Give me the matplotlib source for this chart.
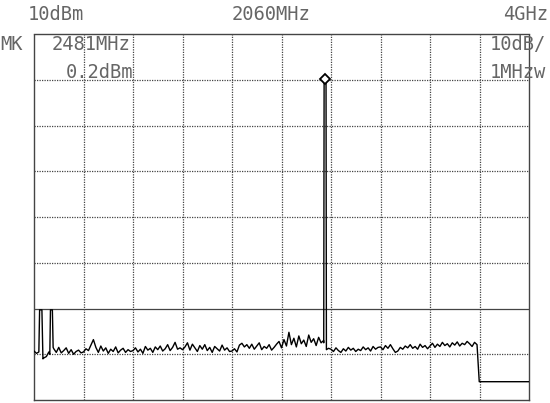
import numpy as np
import matplotlib
matplotlib.use("Agg")
import matplotlib.pyplot as plt

# ------------------------------------------------------------
# Spectrum analyser screen: 120 MHz .. 4 GHz, ref 10 dBm, 10 dB/div
# ------------------------------------------------------------
F_START, F_STOP = 120.0, 4000.0
REF_LEVEL, DB_DIV, N_YDIV, N_XDIV = 10.0, 10.0, 8, 10

# noise floor, 20 readings per horizontal division (divisions 0..8)
noise_div = [
    [-59.3, -59.8, -59.0, -60.2, -60.8, -60.5, -59.5, -59.9, -58.8, -59.6,
     -58.5, -59.7, -59.2, -58.6, -59.8, -59.0, -60.0, -59.4, -59.1, -59.7],
    [-59.5, -58.8, -59.2, -58.0, -56.8, -58.5, -59.6, -58.2, -59.3, -58.6,
     -59.8, -58.9, -59.4, -58.4, -59.7, -59.1, -58.7, -59.6, -59.0, -59.4],
    [-59.2, -58.6, -59.5, -58.9, -59.8, -58.3, -59.1, -58.7, -59.6, -58.4,
     -59.0, -58.2, -59.3, -58.8, -57.9, -59.2, -58.5, -57.4, -58.9, -58.6],
    [-59.0, -58.4, -57.5, -59.1, -57.8, -58.6, -59.4, -58.1, -58.9, -57.9,
     -59.2, -58.5, -59.6, -58.3, -58.8, -59.3, -58.0, -59.1, -58.6, -59.4],
    [-59.3, -58.8, -59.5, -58.0, -57.6, -58.4, -57.9, -58.7, -57.8, -58.9,
     -58.2, -57.5, -59.0, -58.3, -58.7, -57.9, -59.1, -58.5, -57.8, -57.2],
    [-58.6, -56.8, -58.2, -55.2, -57.9, -56.5, -58.4, -56.0, -57.7, -56.9,
     -58.3, -55.8, -57.4, -56.6, -58.1, -56.3, -57.5, -57.0, -59.2, -58.7],
    [-58.9, -59.4, -58.6, -59.2, -59.6, -58.8, -59.3, -58.5, -59.1, -58.7,
     -59.4, -58.9, -59.2, -58.4, -59.0, -58.6, -59.3, -58.3, -58.9, -58.5],
    [-58.4, -59.0, -58.1, -58.7, -57.9, -58.8, -59.6, -59.3, -58.5, -58.9,
     -58.2, -58.6, -57.9, -58.7, -58.3, -58.9, -57.8, -58.5, -58.1, -58.8],
    [-58.2, -57.6, -58.5, -57.8, -58.3, -57.4, -58.1, -57.7, -58.4, -57.5,
     -58.0, -57.3, -58.2, -57.6, -57.9, -57.2, -57.7, -58.3, -57.4, -57.9],
]

# spurs near the start and the carrier
spur1_freq = [158.0, 164.0, 182.0, 190.0]
spur1_dbm = [-59.5, -50.3, -50.3, -61.0]
spur2_freq = [244.0, 249.0, 264.0, 270.0]
spur2_dbm = [-60.0, -50.3, -50.3, -58.5]
carrier_freq = [2391.0, 2394.0, 2409.0, 2412.0]
carrier_dbm = [-57.5, 0.2, 0.2, -59.0]
marker_freq, marker_dbm = 2401.0, 0.2

# trace falls off at the end of the sweep
tail_freq = [3610.0, 4000.0]
tail_dbm = [-66.0, -66.0]

# ------------------------------------------------------------
div_mhz = (F_STOP - F_START) / N_XDIV
freqs, levels = [], []
for i, vals in enumerate(noise_div):
    f0 = F_START + i * div_mhz
    fs = f0 + np.arange(len(vals)) * div_mhz / len(vals)
    freqs.extend(fs)
    levels.extend(vals)
freqs = np.array(freqs)
levels = np.array(levels)

# drop noise samples that sit under the spurs / carrier
keep = np.ones(len(freqs), bool)
for seg in (spur1_freq, spur2_freq, carrier_freq):
    keep &= ~((freqs >= seg[0]) & (freqs <= seg[-1]))
freqs = np.concatenate([freqs[keep], spur1_freq, spur2_freq, carrier_freq])
levels = np.concatenate([levels[keep], spur1_dbm, spur2_dbm, carrier_dbm])
order = np.argsort(freqs)
freqs, levels = freqs[order], levels[order]
freqs = np.concatenate([freqs, tail_freq])
levels = np.concatenate([levels, tail_dbm])

W, H = 550, 403
fig = plt.figure(figsize=(W / 100, H / 100), dpi=100)
ax = fig.add_axes([34 / W, 1 - 400 / H, 495 / W, 366 / H])

ax.set_xlim(F_START, F_STOP)
ax.set_ylim(REF_LEVEL - N_YDIV * DB_DIV, REF_LEVEL)

grid_col = "#444444"
for k in range(1, N_XDIV):
    ax.axvline(F_START + k * div_mhz, color=grid_col, lw=0.9,
               linestyle=(0, (1, 1)), zorder=1)
for k in range(1, N_YDIV):
    lvl = REF_LEVEL - k * DB_DIV
    ls = "-" if lvl == -50 else (0, (1, 1))
    ax.axhline(lvl, color=grid_col, lw=0.9, linestyle=ls, zorder=1)

for name, sp in ax.spines.items():
    sp.set_linestyle((0, (1, 1)))
    sp.set_color(grid_col)
    sp.set_linewidth(1.0)
ax.set_xticks([])
ax.set_yticks([])

ax.plot(freqs, levels, color="black", lw=1.0, zorder=3)
ax.plot([marker_freq], [marker_dbm], marker="D", ms=5, mfc="white",
        mec="black", mew=1.3, zorder=4)

txt = dict(family="DejaVu Sans Mono", fontsize=13.5, color="#666666",
           va="center")


def put(x, y, s, ha="left"):
    fig.text(x / W, 1 - y / H, s, ha=ha, **txt)


put(28, 15, "10dBm")
put(271, 15, "2060MHz", ha="center")
put(548, 15, "4GHz", ha="right")
put(0, 45, "MK")
put(52, 45, "2481MHz")
put(66, 72, "0.2dBm")
put(546, 45, "10dB/", ha="right")
put(546, 72, "1MHzw", ha="right")

fig.savefig("out.png", dpi=100, facecolor="white")
